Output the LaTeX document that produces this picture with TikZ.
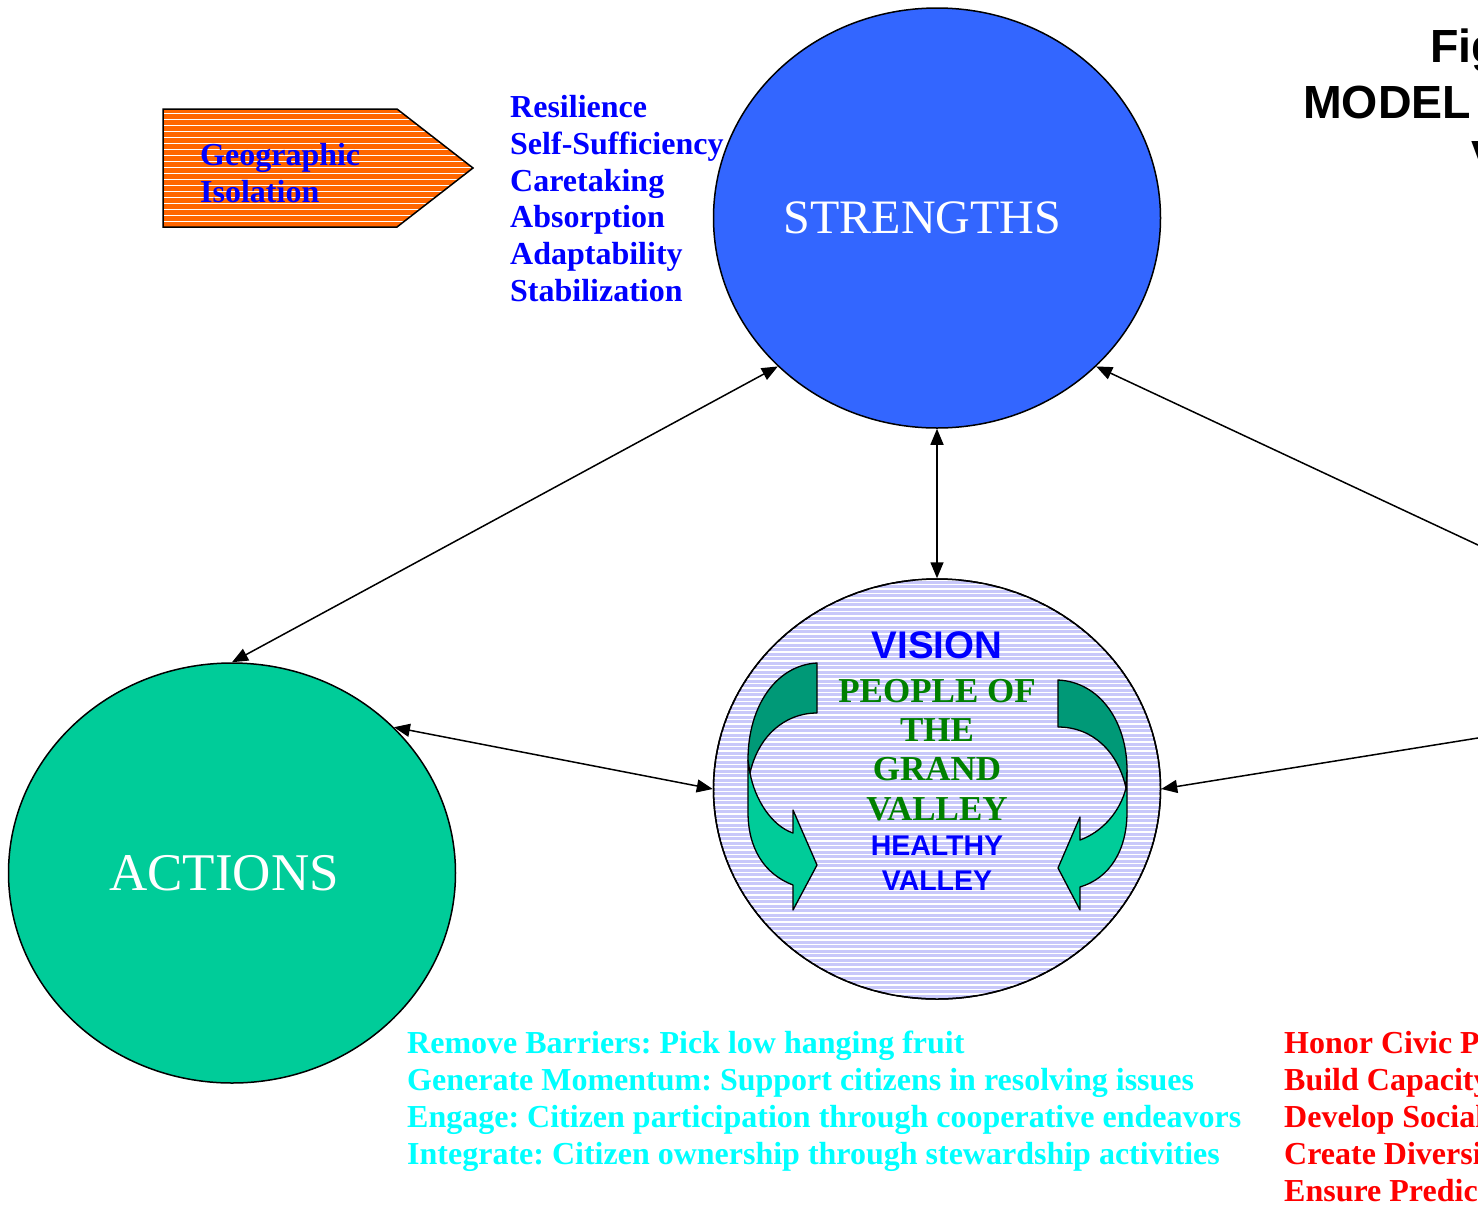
\documentclass[tikz,border=0pt]{standalone}
\usepackage{fontspec}
\setmainfont{Liberation Serif}
\newfontfamily\arialfont{Liberation Sans}
\usetikzlibrary{shapes.geometric,arrows.meta}
\definecolor{sblue}{HTML}{3366FF}
\definecolor{agreen}{HTML}{00CC99}
\definecolor{adark}{HTML}{009977}
\definecolor{lav}{HTML}{C8C8FA}
\definecolor{orng}{HTML}{FF6600}
\definecolor{tgreen}{HTML}{008000}
\definecolor{tcyan}{HTML}{00FFFF}
\definecolor{tblue}{HTML}{0000FF}
\definecolor{tred}{HTML}{FF0000}
\frenchspacing
\begin{document}
\begin{tikzpicture}[x=1pt,y=-1pt,
  tip/.tip={Triangle[length=16pt,width=13pt]},
  conn/.style={line width=1.5pt,{tip}-{tip}},
  connone/.style={line width=1.5pt,-{tip}},
  bigcirc/.style={ellipse,draw,line width=1.5pt,minimum width=447pt,minimum height=420pt,inner sep=0pt},
  txt/.style={inner sep=0pt,anchor=base west,font=\fontsize{32}{37}\selectfont\bfseries},
  ctxt/.style={inner sep=0pt,anchor=base},
  ribbon/.style={draw,line width=1.3pt,line join=round}]
\fill[white] (0,0) rectangle (1478,1211);
\path[use as bounding box] (0,0) rectangle (1478,1211);
\clip (0,0) rectangle (1478,1211);

% Geographic isolation pentagon
\fill[orng] (163,109) -- (397,109) -- (473,168) -- (397,227) -- (163,227) -- cycle;
\begin{scope}
\clip (163,109) -- (397,109) -- (473,168) -- (397,227) -- (163,227) -- cycle;
\foreach \yy in {113,119,...,227} \draw[white,line width=1pt] (160,\yy) -- (480,\yy);
\end{scope}
\draw[line width=1.5pt,line join=miter] (163,109) -- (397,109) -- (473,168) -- (397,227) -- (163,227) -- cycle;
\node[txt,text=tblue] (geo1) at (200,165) {Geographic};
\node[txt,text=tblue] (geo2) at (200,202) {Isolation};

% strengths list
\foreach \t [count=\i] in {Resilience,Self-Sufficiency,Caretaking,Absorption,Adaptability,Stabilization}
  \node[txt,text=tblue] (s\i) at (510,{117.5+36.8*(\i-1)}) {\t};

% circles
\node[bigcirc,fill=sblue] (S) at (937,218) {};
\node[ctxt,text=white,font=\fontsize{48}{54}\selectfont] (Stxt) at (922.5,233) {STRENGTHS};
\node[bigcirc,fill=agreen] (A) at (232,873) {};
\node[ctxt,text=white,font=\fontsize{53}{58}\selectfont] (Atxt) at (224,890) {ACTIONS};
\node[bigcirc,fill=lav] (V) at (937,789) {};
\begin{scope}
\clip (937,789) ellipse [x radius=223.5pt, y radius=210pt];
\foreach \yy in {580,584.5,...,1000} \draw[white,line width=1.1pt] (700,\yy) -- (1175,\yy);
\end{scope}
\draw[line width=1.5pt] (937,789) ellipse [x radius=223.5pt, y radius=210pt];

% left ribbon arrow
\draw[ribbon,fill=agreen] (750,773) .. controls (755,800) and (772,826) .. (793,833) -- (793,810) -- (817,865) -- (793,910) -- (793,885) .. controls (764,874) and (748,848) .. (748,812) -- (748,760) -- cycle;
\draw[ribbon,fill=adark] (817,663) .. controls (777,665) and (748,705) .. (748,760) -- (750,773) .. controls (758,737) and (784,713) .. (817,713) -- cycle;
% right ribbon arrow
\draw[ribbon,fill=agreen] (1126,788) .. controls (1120,812) and (1102,832) .. (1080,840) -- (1080,817) -- (1058,868) -- (1080,910) -- (1080,887) .. controls (1110,878) and (1127,850) .. (1127,812) -- (1127,770) -- cycle;
\draw[ribbon,fill=adark] (1058,680) .. controls (1100,682) and (1127,722) .. (1127,770) -- (1126,788) .. controls (1118,752) and (1093,727) .. (1058,727) -- cycle;

% vision texts
\node[ctxt,text=tblue,font=\fontsize{38.5}{40}\selectfont\arialfont\bfseries] (v1) at (937,658) {VISION};
\foreach \t/\yy [count=\i] in {PEOPLE OF/702,THE/741,GRAND/780,VALLEY/820}
  \node[ctxt,text=tgreen,font=\fontsize{35}{40}\selectfont\bfseries] (p\i) at (937,\yy) {\t};
\node[ctxt,text=tblue,font=\fontsize{28.5}{32}\selectfont\arialfont\bfseries] (h1) at (937,855) {HEALTHY};
\node[ctxt,text=tblue,font=\fontsize{28.5}{32}\selectfont\arialfont\bfseries] (h2) at (937,890) {VALLEY};

% connectors
\coordinate (offR1) at (1540,574);
\coordinate (offR2) at (1540,728);
\draw[conn] (S.south) -- (V.north);
\draw[conn] (S.223) -- (A.north);
\draw[conn] (A.42) -- (V.west);
\draw[connone] (offR1) -- (S.-43);
\draw[connone] (offR2) -- (V.east);

% action list
\foreach \t [count=\i] in {Remove Barriers: Pick low hanging fruit,Generate Momentum: Support citizens in resolving issues,Engage: Citizen participation through cooperative endeavors,Integrate: Citizen ownership through stewardship activities}
  \node[txt,text=tcyan] (c\i) at (407,{1053.5+37*(\i-1)}) {\t};

% red list (cut by the right edge, as in the reference)
\foreach \t [count=\i] in {Honor Civic P,Build Capacity,Develop Social,Create Diversi,Ensure Predic}
  \node[txt,text=tred] (r\i) at (1284,{1053.5+37*(\i-1)}) {\t};

% title (cut by the right edge, as in the reference)
\node[inner sep=0pt,anchor=base west,font=\fontsize{46.5}{50}\selectfont\arialfont\bfseries] (t1) at (1430,62) {Fig};
\node[inner sep=0pt,anchor=base west,font=\fontsize{46.5}{50}\selectfont\arialfont\bfseries] (t2) at (1303,118) {MODEL};
\node[inner sep=0pt,anchor=base west,font=\fontsize{46.5}{50}\selectfont\arialfont\bfseries] (t3) at (1471,173) {V};
\end{tikzpicture}
\end{document}
